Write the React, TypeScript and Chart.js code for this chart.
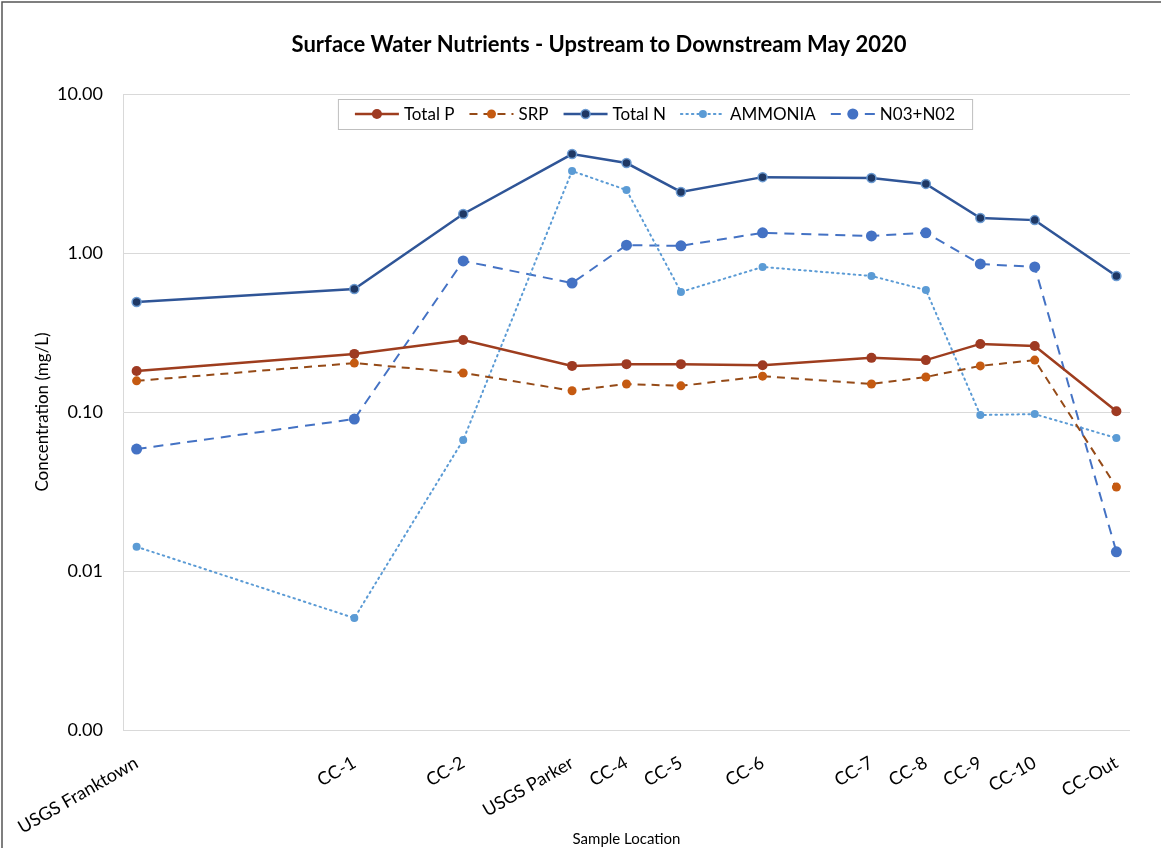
import { useEffect, useRef } from 'react';
import { Chart, registerables } from 'chart.js';

Chart.register(...registerables);

const locations = ['USGS Franktown', 'CC-1', 'CC-2', 'USGS Parker', 'CC-4', 'CC-5', 'CC-6', 'CC-7', 'CC-8', 'CC-9', 'CC-10', 'CC-Out'];
const riverPositions = [0, 8, 12, 16, 18, 20, 23, 27, 29, 31, 33, 36];
const totalP = [0.181, 0.232, 0.284, 0.195, 0.2, 0.2, 0.197, 0.219, 0.212, 0.268, 0.26, 0.101];
const srp = [0.157, 0.203, 0.176, 0.136, 0.15, 0.146, 0.168, 0.15, 0.166, 0.195, 0.212, 0.0337];
const totalN = [0.492, 0.594, 1.76, 4.19, 3.68, 2.42, 3.0, 2.96, 2.72, 1.66, 1.61, 0.717];
const ammonia = [0.0142, 0.00506, 0.0667, 3.28, 2.49, 0.569, 0.817, 0.717, 0.585, 0.0957, 0.097, 0.0686];
const nitrate = [0.0585, 0.0903, 0.891, 0.647, 1.12, 1.11, 1.34, 1.28, 1.34, 0.853, 0.817, 0.0132];
const yTicks = [0.001, 0.01, 0.1, 1, 10];

const FONT = 'Lato, "Open Sans", sans-serif';

const framePlugin = {
  id: 'frame',
  beforeDraw(chart: any) {
    const ctx = chart.ctx;
    ctx.save();
    ctx.fillStyle = '#ffffff';
    ctx.fillRect(0, 0, chart.width, chart.height);
    ctx.strokeStyle = '#555555';
    ctx.lineWidth = 1.5;
    ctx.beginPath();
    ctx.moveTo(2, chart.height + 5);
    ctx.lineTo(2, 2);
    ctx.lineTo(chart.width + 5, 2);
    ctx.stroke();
    ctx.fillStyle = '#000000';
    ctx.font = 'bold 22px ' + FONT;
    ctx.textAlign = 'center';
    ctx.textBaseline = 'middle';
    ctx.fillText('Surface Water Nutrients - Upstream to Downstream May 2020', 599, 45);
    ctx.restore();
  },
};

const legendPlugin = {
  id: 'insideLegend',
  afterDatasetsDraw(chart: any) {
    const ctx = chart.ctx;
    const datasets = chart.data.datasets;
    ctx.save();
    ctx.font = '17px ' + FONT;
    const lineLen = 44;
    const gap = 5;
    const itemGap = 15;
    const pad = 17;
    const widths = datasets.map((d: any) => ctx.measureText(d.label).width);
    const total = widths.reduce((a: number, b: number) => a + b, 0) + datasets.length * (lineLen + gap) + itemGap * (datasets.length - 1) + pad * 2;
    const cx = 655;
    const top = 99;
    const h = 30;
    const left = cx - total / 2;
    ctx.fillStyle = '#ffffff';
    ctx.fillRect(left, top, total, h);
    ctx.strokeStyle = '#bfbfbf';
    ctx.lineWidth = 1;
    ctx.strokeRect(left + 0.5, top + 0.5, total, h);
    let x = left + pad;
    const y = top + h / 2;
    datasets.forEach((d: any, i: number) => {
      ctx.save();
      ctx.strokeStyle = d.borderColor;
      ctx.lineWidth = d.borderWidth;
      ctx.lineCap = d.borderCapStyle || 'butt';
      ctx.setLineDash(d.borderDash || []);
      ctx.beginPath();
      ctx.moveTo(x, y);
      ctx.lineTo(x + lineLen, y);
      ctx.stroke();
      ctx.setLineDash([]);
      ctx.beginPath();
      ctx.arc(x + lineLen / 2, y, d.pointRadius, 0, Math.PI * 2);
      ctx.fillStyle = d.pointBackgroundColor;
      ctx.fill();
      if (d.pointBorderWidth) {
        ctx.lineWidth = d.pointBorderWidth;
        ctx.strokeStyle = d.pointBorderColor;
        ctx.stroke();
      }
      ctx.restore();
      ctx.fillStyle = '#000000';
      ctx.textAlign = 'left';
      ctx.textBaseline = 'middle';
      ctx.fillText(d.label, x + lineLen + gap, y + 1);
      x += lineLen + gap + widths[i] + itemGap;
    });
    ctx.restore();
  },
};

export default function App() {
  const ref = useRef<HTMLCanvasElement>(null);
  useEffect(() => {
    document.body.style.margin = '0';
    const canvas = ref.current as HTMLCanvasElement;
    const pts = (vals: number[]) => vals.map((y, i) => ({ x: riverPositions[i], y }));
    const chart = new Chart(canvas, {
      type: 'line',
      data: {
        datasets: [
          {
            label: 'Total P',
            data: pts(totalP),
            borderColor: '#9E3D1E',
            borderWidth: 2.5,
            pointBackgroundColor: '#9E3A22',
            pointBorderColor: '#9E3A22',
            pointBorderWidth: 0,
            pointRadius: 5,
          },
          {
            label: 'SRP',
            data: pts(srp),
            borderColor: '#954A17',
            borderWidth: 2,
            borderDash: [8, 6],
            pointBackgroundColor: '#C55A11',
            pointBorderColor: '#C55A11',
            pointBorderWidth: 0,
            pointRadius: 4.5,
          },
          {
            label: 'Total N',
            data: pts(totalN),
            borderColor: '#2F5597',
            borderWidth: 2.5,
            pointBackgroundColor: '#1F3864',
            pointBorderColor: '#6C9BD2',
            pointBorderWidth: 1.5,
            pointRadius: 4.5,
          },
          {
            label: 'AMMONIA',
            data: pts(ammonia),
            borderColor: '#5B9BD5',
            borderWidth: 2,
            borderDash: [1.5, 4],
            borderCapStyle: 'round',
            pointBackgroundColor: '#5B9BD5',
            pointBorderColor: '#5B9BD5',
            pointBorderWidth: 0,
            pointRadius: 4,
          },
          {
            label: 'N03+N02',
            data: pts(nitrate),
            borderColor: '#4472C4',
            borderWidth: 2,
            borderDash: [10, 7],
            pointBackgroundColor: '#4472C4',
            pointBorderColor: '#4472C4',
            pointBorderWidth: 0,
            pointRadius: 5.5,
          },
        ] as any,
      },
      options: {
        responsive: false,
        animation: false,
        layout: { padding: { top: 94, right: 31, left: 0, bottom: 0 } },
        plugins: {
          legend: { display: false },
          title: { display: false },
          tooltip: { enabled: false },
        },
        scales: {
          x: {
            type: 'linear',
            min: -0.5,
            max: 36.5,
            afterBuildTicks: (scale: any) => {
              scale.ticks = riverPositions.map((v) => ({ value: v }));
            },
            afterFit: (scale: any) => {
              scale.height = 118;
            },
            grid: { display: false },
            border: { display: false },
            ticks: {
              autoSkip: false,
              minRotation: 30,
              maxRotation: 30,
              padding: 14,
              color: '#000000',
              font: { family: FONT, size: 18 },
              callback: (v: any) => {
                const i = riverPositions.indexOf(Number(v));
                return i >= 0 ? locations[i] : '';
              },
            },
            title: {
              display: true,
              text: 'Sample Location',
              color: '#000000',
              font: { family: FONT, size: 15 },
              padding: { top: 0, bottom: 0 },
            },
          },
          y: {
            type: 'logarithmic',
            min: 0.001,
            max: 10,
            afterBuildTicks: (scale: any) => {
              scale.ticks = yTicks.map((v) => ({ value: v }));
            },
            afterFit: (scale: any) => {
              scale.width = 123;
            },
            grid: { color: '#d9d9d9', lineWidth: 1, drawTicks: false },
            border: { display: true, color: '#d9d9d9', width: 1 },
            ticks: {
              padding: 20,
              color: '#000000',
              font: { family: FONT, size: 18 },
              callback: (v: any) => Number(v).toFixed(2),
            },
            title: {
              display: true,
              text: 'Concentration (mg/L)',
              color: '#000000',
              font: { family: FONT, size: 17 },
              padding: { top: 32, bottom: 0 },
            },
          },
        },
      },
      plugins: [framePlugin, legendPlugin],
    });
    return () => chart.destroy();
  }, []);
  return (
    <div style={{ width: 1161, height: 848 }}>
      <canvas ref={ref} width={1161} height={848} style={{ display: 'block' }} />
    </div>
  );
}
